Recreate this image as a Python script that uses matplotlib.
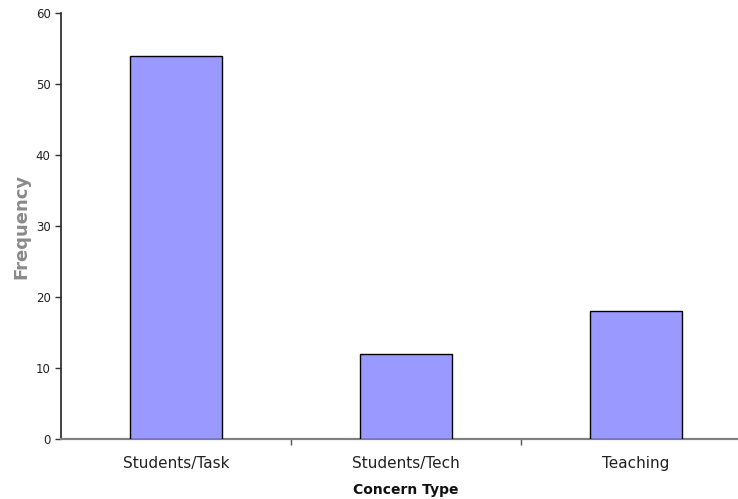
import matplotlib
matplotlib.use("Agg")
import matplotlib.pyplot as plt
from matplotlib.ticker import FixedLocator, NullFormatter

categories = ["Students/Task", "Students/Tech", "Teaching"]
frequency = [54, 12, 18]
y_ticks = [0, 10, 20, 30, 40, 50, 60]

W, H = 738, 499
fig = plt.figure(figsize=(W / 100, H / 100), dpi=100)
ax = fig.add_axes([61 / W, (H - 439) / H, 690 / W, 426 / H])

x = list(range(len(categories)))
ax.bar(x, frequency, width=0.4, color="#9999FF", edgecolor="black", linewidth=1.0, zorder=3)

ax.set_xlim(-0.5, len(categories) - 0.5)
ax.set_ylim(0, 60)
ax.set_yticks(y_ticks)
ax.set_xticks(x)
ax.set_xticklabels(categories, fontsize=11, color="#222222")
ax.xaxis.set_minor_locator(FixedLocator([0.5, 1.5]))
ax.xaxis.set_minor_formatter(NullFormatter())
ax.tick_params(axis="x", which="major", length=0, pad=12)
ax.tick_params(axis="x", which="minor", length=4, width=1, color="#555555", direction="out")
ax.tick_params(axis="y", length=4, width=1, color="#333333", labelsize=8.5, labelcolor="#222222", pad=3.5)

for side in ("top", "right"):
    ax.spines[side].set_visible(False)
ax.spines["left"].set_color("#222222")
ax.spines["left"].set_linewidth(1.2)
ax.spines["bottom"].set_color("#808080")
ax.spines["bottom"].set_linewidth(1.6)

ax.set_xlabel("Concern Type", fontsize=10, fontweight="bold", color="#111111", labelpad=9)
fig.text(21 / W, 1 - 226 / H, "Frequency", rotation=90, ha="center", va="center",
         fontsize=13, fontweight="bold", color="#8a8a8a")

fig.savefig("out.png", dpi=100)
